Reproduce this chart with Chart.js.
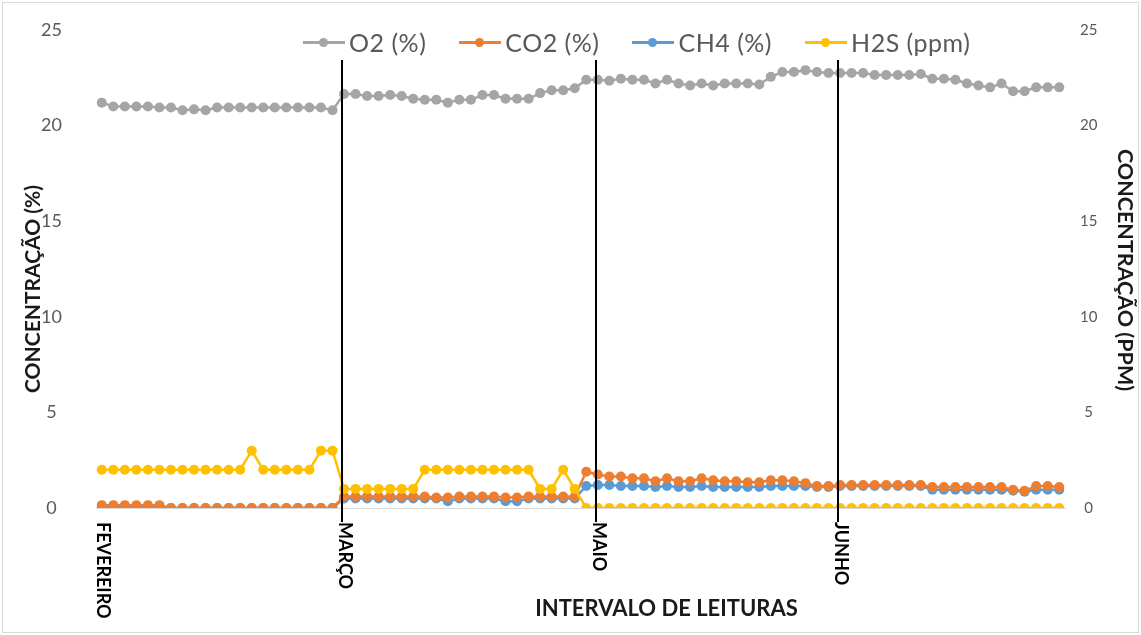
<!DOCTYPE html>
<html lang="pt">
<head>
<meta charset="utf-8">
<title>Concentração de gases</title>
<script src="https://cdn.jsdelivr.net/npm/chart.js@4.4.1/dist/chart.umd.min.js"></script>
<style>
  html, body { margin: 0; padding: 0; background: #fff; }
  .chart-box { position: relative; width: 1141px; height: 635px; }
  .chart-box::after {
    content: ''; position: absolute; left: 2px; top: 2px; right: 2px; bottom: 2px;
    border: 1px solid #d9d9d9; pointer-events: none;
  }
  #legend-container {
    position: absolute; left: 303px; top: 27px;
    font-family: Lato, sans-serif; font-size: 25px; letter-spacing: 0.5px; color: #595959;
  }
</style>
</head>
<body>
<div class="chart-box">
  <canvas id="myChart" width="1141" height="635"></canvas>
  <div id="legend-container"></div>
</div>
<script>
// month names and the reading index where each month starts
const monthNames = ['FEVEREIRO', 'MARÇO', 'MAIO', 'JUNHO'];
const monthStart = [0, 21, 43, 64];

const o2 = [
  21.2, 21.0, 21.0, 21.0, 21.0, 20.95, 20.95, 20.8, 20.85, 20.8,
  20.95, 20.95, 20.95, 20.95, 20.95, 20.95, 20.95, 20.95, 20.95, 20.95,
  20.8, 21.65, 21.65, 21.55, 21.55, 21.6, 21.55, 21.4, 21.35, 21.35,
  21.2, 21.35, 21.35, 21.6, 21.6, 21.4, 21.4, 21.4, 21.7, 21.85,
  21.85, 21.95, 22.4, 22.4, 22.35, 22.45, 22.4, 22.4, 22.2, 22.4,
  22.2, 22.1, 22.2, 22.1, 22.2, 22.2, 22.2, 22.15, 22.55, 22.8,
  22.8, 22.9, 22.8, 22.75, 22.75, 22.75, 22.75, 22.65, 22.65, 22.65,
  22.65, 22.7, 22.45, 22.45, 22.4, 22.2, 22.1, 22.0, 22.2, 21.8,
  21.8, 22.0, 22.0, 22.0
];

const co2 = [
  0.15, 0.15, 0.15, 0.15, 0.15, 0.15, 0, 0, 0, 0,
  0, 0, 0, 0, 0, 0, 0, 0, 0, 0,
  0, 0.6, 0.6, 0.6, 0.6, 0.6, 0.6, 0.6, 0.6, 0.55,
  0.55, 0.6, 0.6, 0.6, 0.6, 0.55, 0.55, 0.6, 0.6, 0.6,
  0.6, 0.6, 1.9, 1.75, 1.65, 1.65, 1.55, 1.55, 1.4, 1.55,
  1.4, 1.4, 1.55, 1.45, 1.4, 1.4, 1.35, 1.35, 1.45, 1.45,
  1.4, 1.3, 1.15, 1.15, 1.2, 1.2, 1.2, 1.2, 1.2, 1.2,
  1.2, 1.2, 1.1, 1.1, 1.1, 1.1, 1.1, 1.1, 1.1, 0.95,
  0.9, 1.15, 1.15, 1.1
];

const ch4 = [
  0.05, 0.05, 0.05, 0.05, 0.05, 0.05, 0, 0, 0, 0,
  0, 0, 0, 0, 0, 0, 0, 0, 0, 0,
  0, 0.5, 0.5, 0.5, 0.5, 0.5, 0.5, 0.5, 0.5, 0.5,
  0.35, 0.5, 0.5, 0.5, 0.5, 0.35, 0.35, 0.5, 0.5, 0.5,
  0.5, 0.5, 1.15, 1.2, 1.2, 1.15, 1.15, 1.15, 1.1, 1.15,
  1.1, 1.1, 1.15, 1.1, 1.1, 1.1, 1.1, 1.1, 1.15, 1.15,
  1.15, 1.15, 1.1, 1.1, 1.15, 1.15, 1.15, 1.15, 1.15, 1.15,
  1.15, 1.15, 0.95, 0.95, 0.95, 0.95, 0.95, 0.95, 0.95, 0.9,
  0.85, 0.95, 0.95, 0.95
];

const h2s = [
  2, 2, 2, 2, 2, 2, 2, 2, 2, 2,
  2, 2, 2, 3, 2, 2, 2, 2, 2, 3,
  3, 1, 1, 1, 1, 1, 1, 1, 2, 2,
  2, 2, 2, 2, 2, 2, 2, 2, 1, 1,
  2, 1, 0, 0, 0, 0, 0, 0, 0, 0,
  0, 0, 0, 0, 0, 0, 0, 0, 0, 0,
  0, 0, 0, 0, 0, 0, 0, 0, 0, 0,
  0, 0, 0, 0, 0, 0, 0, 0, 0, 0,
  0, 0, 0, 0
];

const yTitle = 'CONCENTRAÇÃO (%)';
const y1Title = 'CONCENTRAÇÃO (PPM)';
const xTitle = 'INTERVALO DE LEITURAS';

// one category per reading, month name on the first reading of each month
const labels = o2.map((v, i) => {
  const k = monthStart.indexOf(i);
  return k >= 0 ? monthNames[k] : '';
});

const ctx = document.querySelector('#myChart').getContext('2d');

const getOrCreateLegendList = (chart, id) => {
  const legendContainer = document.getElementById(id);
  let listContainer = legendContainer.querySelector('ul');

  if (!listContainer) {
    listContainer = document.createElement('ul');
    listContainer.style.display = 'flex';
    listContainer.style.flexDirection = 'row';
    listContainer.style.margin = 0;
    listContainer.style.padding = 0;
    listContainer.style.listStyle = 'none';

    legendContainer.appendChild(listContainer);
  }

  return listContainer;
};

const htmlLegendPlugin = {
  id: 'htmlLegend',
  afterUpdate(chart, args, options) {
    const ul = getOrCreateLegendList(chart, options.containerID);

    while (ul.firstChild) {
      ul.firstChild.remove();
    }

    const items = chart.options.plugins.legend.labels.generateLabels(chart)
      .sort((a, b) => a.datasetIndex - b.datasetIndex);

    items.forEach((item, n) => {
      const li = document.createElement('li');
      li.style.alignItems = 'center';
      li.style.display = 'flex';
      li.style.flexDirection = 'row';
      li.style.marginLeft = n ? '33px' : '0';

      // line with a dot, like the series markers
      const lineSpan = document.createElement('span');
      lineSpan.style.position = 'relative';
      lineSpan.style.display = 'inline-block';
      lineSpan.style.width = '42px';
      lineSpan.style.height = '3px';
      lineSpan.style.background = item.strokeStyle;
      lineSpan.style.marginRight = '4px';

      const dot = document.createElement('span');
      dot.style.position = 'absolute';
      dot.style.left = '16px';
      dot.style.top = '-3px';
      dot.style.width = '9px';
      dot.style.height = '9px';
      dot.style.borderRadius = '50%';
      dot.style.background = item.strokeStyle;
      lineSpan.appendChild(dot);

      const textContainer = document.createElement('p');
      textContainer.style.margin = 0;
      textContainer.style.padding = 0;
      textContainer.appendChild(document.createTextNode(item.text));

      li.appendChild(lineSpan);
      li.appendChild(textContainer);
      ul.appendChild(li);
    });
  }
};

// month separators, rotated month names and the axis titles
const monthMarks = {
  id: 'monthMarks',
  afterDatasetsDraw(chart) {
    const {ctx, chartArea, scales: {x}} = chart;
    ctx.save();

    ctx.strokeStyle = '#000';
    ctx.lineWidth = 2;
    monthStart.slice(1).forEach(i => {
      const px = Math.round(x.getPixelForValue(i)) - 2;
      ctx.beginPath();
      ctx.moveTo(px, chartArea.top + 30);
      ctx.lineTo(px, chartArea.bottom + 14);
      ctx.stroke();
    });

    ctx.fillStyle = '#000';
    ctx.font = 'bold 18px Lato';
    ctx.textAlign = 'left';
    ctx.textBaseline = 'middle';
    monthStart.forEach((i, k) => {
      ctx.save();
      ctx.translate(x.getPixelForValue(i) + 1, chartArea.bottom + 14);
      ctx.rotate(Math.PI / 2);
      ctx.fillText(monthNames[k], 0, 0);
      ctx.restore();
    });

    ctx.textAlign = 'center';
    ctx.fillStyle = '#1a1a1a';
    ctx.font = 'bold 22px Lato';
    ctx.fillText(xTitle, (chartArea.left + chartArea.right) / 2 + 86, chartArea.bottom + 101);

    // left title reads upwards, right title reads downwards
    ctx.save();
    ctx.font = 'bold 21px Lato';
    ctx.translate(33, chartArea.bottom - 219);
    ctx.rotate(-Math.PI / 2);
    ctx.fillText(yTitle, 0, 0);
    ctx.restore();

    ctx.save();
    ctx.font = 'bold 21.5px Lato';
    ctx.translate(1125, chartArea.bottom - 238);
    ctx.rotate(Math.PI / 2);
    ctx.fillText(y1Title, 0, 0);
    ctx.restore();

    ctx.restore();
  }
};

// the tick padding also pads the top of the axis; keep only half a label
const trimAxisPadding = (scale) => {
  scale.paddingTop = 10;
  scale.paddingBottom = 10;
};

const lineStyle = {
  borderWidth: 2.5,
  pointRadius: 5,
  pointHoverRadius: 5,
  pointBorderWidth: 0,
  tension: 0,
};

new Chart(ctx, {
  type: 'line',
  data: {
    labels: labels,
    datasets: [{
      label: 'O2 (%)',
      data: o2,
      borderColor: '#A5A5A5',
      backgroundColor: '#A5A5A5',
      yAxisID: 'y',
      order: 3,
      ...lineStyle,
    },
    {
      label: 'CO2 (%)',
      data: co2,
      borderColor: '#ED7D31',
      backgroundColor: '#ED7D31',
      yAxisID: 'y',
      order: 2,
      ...lineStyle,
    },
    {
      label: 'CH4 (%)',
      data: ch4,
      borderColor: '#5B9BD5',
      backgroundColor: '#5B9BD5',
      yAxisID: 'y',
      order: 4,
      ...lineStyle,
    },
    {
      label: 'H2S (ppm)',
      data: h2s,
      borderColor: '#FFC000',
      backgroundColor: '#FFC000',
      yAxisID: 'y1',
      order: 1,
      ...lineStyle,
    }]
  },
  options: {
    responsive: false,
    animation: false,
    layout: {
      padding: { left: 10, right: 4, top: 30, bottom: 0 }
    },
    plugins: {
      htmlLegend: {
        containerID: 'legend-container',
      },
      legend: {
        display: false,
      },
      tooltip: {
        enabled: false,
      }
    },
    scales: {
      x: {
        type: 'category',
        offset: true,
        grid: { display: false, drawTicks: false },
        border: { color: '#d9d9d9', width: 1 },
        ticks: { display: false },
        afterFit(scale) { scale.height = 127; },
      },
      y: {
        position: 'left',
        min: 0,
        max: 25,
        grid: { display: false, drawTicks: false },
        border: { display: false },
        ticks: {
          stepSize: 5,
          padding: 34,
          crossAlign: 'center',
          color: '#595959',
          font: { family: 'Lato', size: 18 },
        },
        afterFit(scale) {
          scale.width = 86;
          trimAxisPadding(scale);
        },
      },
      y1: {
        position: 'right',
        min: 0,
        max: 25,
        grid: { display: false, drawTicks: false },
        border: { display: false },
        ticks: {
          stepSize: 5,
          padding: 15,
          crossAlign: 'center',
          color: '#595959',
          font: { family: 'Lato', size: 15 },
        },
        afterFit(scale) {
          scale.width = 72;
          trimAxisPadding(scale);
        },
      }
    }
  },
  plugins: [htmlLegendPlugin, monthMarks],
});
</script>
</body>
</html>
